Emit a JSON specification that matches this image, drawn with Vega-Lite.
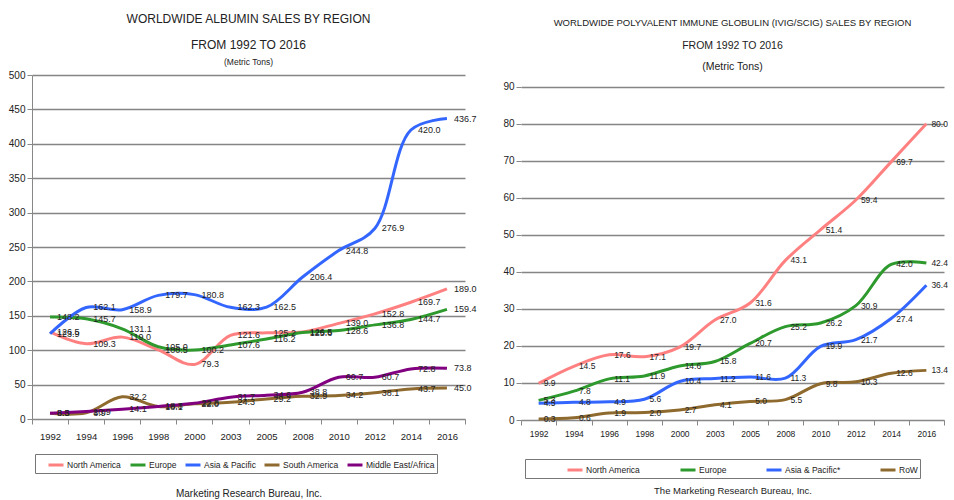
{
  "$schema": "https://vega.github.io/schema/vega-lite/v6.json",
  "background": "white",
  "padding": {"left": 8, "top": 12, "right": 0, "bottom": 0},
  "spacing": 25,
  "config": {
    "font": "Liberation Sans, Arial, sans-serif",
    "view": {"stroke": null},
    "axis": {
      "labelFont": "Liberation Sans, Arial, sans-serif",
      "titleFont": "Liberation Sans, Arial, sans-serif",
      "labelColor": "#222",
      "titleColor": "#222",
      "titleFontWeight": "normal",
      "domainColor": "#888",
      "tickColor": "#888",
      "gridColor": "#858585",
      "gridWidth": 1.3
    },
    "legend": {
      "labelFont": "Liberation Sans, Arial, sans-serif",
      "titleFont": "Liberation Sans, Arial, sans-serif",
      "labelColor": "#222"
    },
    "title": {
      "font": "Liberation Sans, Arial, sans-serif",
      "subtitleFont": "Liberation Sans, Arial, sans-serif",
      "color": "#222",
      "subtitleColor": "#222",
      "fontWeight": "normal",
      "anchor": "middle"
    }
  },
  "datasets": {
    "albumin": [
      {"region": "North America", "year": "1992", "value": 126.5},
      {"region": "North America", "year": "1994", "value": 109.3},
      {"region": "North America", "year": "1996", "value": 119.0},
      {"region": "North America", "year": "1998", "value": 100.5},
      {"region": "North America", "year": "2000", "value": 79.3},
      {"region": "North America", "year": "2003", "value": 121.6},
      {"region": "North America", "year": "2005", "value": 125.2},
      {"region": "North America", "year": "2008", "value": 126.5},
      {"region": "North America", "year": "2010", "value": 139.0},
      {"region": "North America", "year": "2012", "value": 152.8},
      {"region": "North America", "year": "2014", "value": 169.7},
      {"region": "North America", "year": "2016", "value": 189.0},
      {"region": "Europe", "year": "1992", "value": 148.2},
      {"region": "Europe", "year": "1994", "value": 145.7},
      {"region": "Europe", "year": "1996", "value": 131.1},
      {"region": "Europe", "year": "1998", "value": 105.0},
      {"region": "Europe", "year": "2000", "value": 100.2},
      {"region": "Europe", "year": "2003", "value": 107.6},
      {"region": "Europe", "year": "2005", "value": 116.2},
      {"region": "Europe", "year": "2008", "value": 125.6},
      {"region": "Europe", "year": "2010", "value": 128.6},
      {"region": "Europe", "year": "2012", "value": 136.8},
      {"region": "Europe", "year": "2014", "value": 144.7},
      {"region": "Europe", "year": "2016", "value": 159.4},
      {"region": "Asia & Pacific", "year": "1992", "value": 123.9},
      {"region": "Asia & Pacific", "year": "1994", "value": 162.1},
      {"region": "Asia & Pacific", "year": "1996", "value": 158.9},
      {"region": "Asia & Pacific", "year": "1998", "value": 179.7},
      {"region": "Asia & Pacific", "year": "2000", "value": 180.8},
      {"region": "Asia & Pacific", "year": "2003", "value": 162.3},
      {"region": "Asia & Pacific", "year": "2005", "value": 162.5},
      {"region": "Asia & Pacific", "year": "2008", "value": 206.4},
      {"region": "Asia & Pacific", "year": "2010", "value": 244.8},
      {"region": "Asia & Pacific", "year": "2012", "value": 276.9},
      {"region": "Asia & Pacific", "year": "2014", "value": 420.0},
      {"region": "Asia & Pacific", "year": "2016", "value": 436.7},
      {"region": "South America", "year": "1992", "value": 8.3},
      {"region": "South America", "year": "1994", "value": 8.9},
      {"region": "South America", "year": "1996", "value": 32.2},
      {"region": "South America", "year": "1998", "value": 18.1},
      {"region": "South America", "year": "2000", "value": 22.0},
      {"region": "South America", "year": "2003", "value": 24.3},
      {"region": "South America", "year": "2005", "value": 29.2},
      {"region": "South America", "year": "2008", "value": 32.9},
      {"region": "South America", "year": "2010", "value": 34.2},
      {"region": "South America", "year": "2012", "value": 38.1},
      {"region": "South America", "year": "2014", "value": 43.7},
      {"region": "South America", "year": "2016", "value": 45.0},
      {"region": "Middle East/Africa", "year": "1992", "value": 8.5},
      {"region": "Middle East/Africa", "year": "1994", "value": 10.9},
      {"region": "Middle East/Africa", "year": "1996", "value": 14.1},
      {"region": "Middle East/Africa", "year": "1998", "value": 18.3},
      {"region": "Middle East/Africa", "year": "2000", "value": 22.8},
      {"region": "Middle East/Africa", "year": "2003", "value": 31.7},
      {"region": "Middle East/Africa", "year": "2005", "value": 34.6},
      {"region": "Middle East/Africa", "year": "2008", "value": 38.8},
      {"region": "Middle East/Africa", "year": "2010", "value": 60.7},
      {"region": "Middle East/Africa", "year": "2012", "value": 60.7},
      {"region": "Middle East/Africa", "year": "2014", "value": 72.8},
      {"region": "Middle East/Africa", "year": "2016", "value": 73.8}
    ],
    "ivig": [
      {"region": "North America", "year": "1992", "value": 9.9},
      {"region": "North America", "year": "1994", "value": 14.5},
      {"region": "North America", "year": "1996", "value": 17.6},
      {"region": "North America", "year": "1998", "value": 17.1},
      {"region": "North America", "year": "2000", "value": 19.7},
      {"region": "North America", "year": "2003", "value": 27.0},
      {"region": "North America", "year": "2005", "value": 31.6},
      {"region": "North America", "year": "2008", "value": 43.1},
      {"region": "North America", "year": "2010", "value": 51.4},
      {"region": "North America", "year": "2012", "value": 59.4},
      {"region": "North America", "year": "2014", "value": 69.7},
      {"region": "North America", "year": "2016", "value": 80.0},
      {"region": "Europe", "year": "1992", "value": 5.3},
      {"region": "Europe", "year": "1994", "value": 7.8},
      {"region": "Europe", "year": "1996", "value": 11.1},
      {"region": "Europe", "year": "1998", "value": 11.9},
      {"region": "Europe", "year": "2000", "value": 14.6},
      {"region": "Europe", "year": "2003", "value": 15.8},
      {"region": "Europe", "year": "2005", "value": 20.7},
      {"region": "Europe", "year": "2008", "value": 25.2},
      {"region": "Europe", "year": "2010", "value": 26.2},
      {"region": "Europe", "year": "2012", "value": 30.9},
      {"region": "Europe", "year": "2014", "value": 42.0},
      {"region": "Europe", "year": "2016", "value": 42.4},
      {"region": "Asia & Pacific*", "year": "1992", "value": 4.5},
      {"region": "Asia & Pacific*", "year": "1994", "value": 4.8},
      {"region": "Asia & Pacific*", "year": "1996", "value": 4.9},
      {"region": "Asia & Pacific*", "year": "1998", "value": 5.6},
      {"region": "Asia & Pacific*", "year": "2000", "value": 10.4},
      {"region": "Asia & Pacific*", "year": "2003", "value": 11.2},
      {"region": "Asia & Pacific*", "year": "2005", "value": 11.6},
      {"region": "Asia & Pacific*", "year": "2008", "value": 11.3},
      {"region": "Asia & Pacific*", "year": "2010", "value": 19.9},
      {"region": "Asia & Pacific*", "year": "2012", "value": 21.7},
      {"region": "Asia & Pacific*", "year": "2014", "value": 27.4},
      {"region": "Asia & Pacific*", "year": "2016", "value": 36.4},
      {"region": "RoW", "year": "1992", "value": 0.3},
      {"region": "RoW", "year": "1994", "value": 0.6},
      {"region": "RoW", "year": "1996", "value": 1.9},
      {"region": "RoW", "year": "1998", "value": 2.0},
      {"region": "RoW", "year": "2000", "value": 2.7},
      {"region": "RoW", "year": "2003", "value": 4.1},
      {"region": "RoW", "year": "2005", "value": 5.0},
      {"region": "RoW", "year": "2008", "value": 5.5},
      {"region": "RoW", "year": "2010", "value": 9.8},
      {"region": "RoW", "year": "2012", "value": 10.3},
      {"region": "RoW", "year": "2014", "value": 12.6},
      {"region": "RoW", "year": "2016", "value": 13.4}
    ]
  },
  "resolve": {"scale": {"color": "independent"}, "legend": {"color": "independent"}},
  "hconcat": [
    {
      "width": 433,
      "height": 344,
      "title": {
        "text": ["WORLDWIDE ALBUMIN SALES BY REGION", "FROM 1992 TO 2016"],
        "subtitle": "(Metric Tons)",
        "fontSize": 12,
        "lineHeight": 26,
        "subtitleFontSize": 8.5,
        "subtitlePadding": 6,
        "offset": 3
      },
      "data": {"name": "albumin"},
      "encoding": {
        "x": {
          "field": "year",
          "type": "ordinal",
          "bandPosition": 0.5,
          "scale": {"type": "band", "paddingInner": 0, "paddingOuter": 0},
          "axis": {
            "title": "Marketing Research Bureau, Inc.",
            "titleFontSize": 10,
            "titlePadding": 48,
            "labelAngle": 0,
            "labelFontSize": 9.5,
            "labelPadding": 7,
            "tickSize": 5,
            "tickBand": "extent",
            "grid": false
          }
        },
        "y": {
          "field": "value",
          "type": "quantitative",
          "scale": {"domain": [0, 500], "nice": false},
          "axis": {
            "title": null,
            "values": [0, 50, 100, 150, 200, 250, 300, 350, 400, 450, 500],
            "labelFontSize": 10,
            "labelPadding": 2,
            "tickSize": 5,
            "grid": true
          }
        },
        "color": {
          "field": "region",
          "type": "nominal",
          "scale": {
            "domain": ["North America", "Europe", "Asia & Pacific", "South America", "Middle East/Africa"],
            "range": ["#ff8080", "#2e9a2e", "#3366ff", "#8f6a2e", "#800080"]
          },
          "legend": {
            "orient": "none",
            "legendX": 3,
            "legendY": 379,
            "direction": "horizontal",
            "title": " ",
            "titleOrient": "left",
            "titlePadding": 10,
            "titleFontSize": 1,
            "columnPadding": 2,
            "padding": 2,
            "strokeColor": "#777",
            "symbolType": "stroke",
            "symbolStrokeWidth": 3,
            "symbolSize": 225,
            "labelFontSize": 8.5,
            "labelOffset": 2
          }
        }
      },
      "layer": [
        {"mark": {"type": "line", "interpolate": "catmull-rom", "strokeWidth": 3}},
        {
          "mark": {"type": "text", "align": "left", "baseline": "middle", "dx": 7, "fontSize": 9},
          "encoding": {
            "text": {"field": "value", "type": "quantitative", "format": ".1f"},
            "color": {"value": "#222"}
          }
        }
      ]
    },
    {
      "width": 423,
      "height": 345,
      "title": {
        "text": "WORLDWIDE POLYVALENT IMMUNE GLOBULIN (IVIG/SCIG) SALES BY REGION",
        "subtitle": ["FROM 1992 TO 2016", "(Metric Tons)"],
        "fontSize": 9.5,
        "subtitleFontSize": 10.5,
        "subtitleLineHeight": 21,
        "subtitlePadding": 13,
        "offset": 3
      },
      "data": {"name": "ivig"},
      "encoding": {
        "x": {
          "field": "year",
          "type": "ordinal",
          "bandPosition": 0.5,
          "scale": {"type": "band", "paddingInner": 0, "paddingOuter": 0},
          "axis": {
            "title": "The Marketing Research Bureau, Inc.",
            "titleFontSize": 9.5,
            "titlePadding": 48,
            "labelAngle": 0,
            "labelFontSize": 8.5,
            "labelPadding": 4,
            "tickSize": 5,
            "tickBand": "extent",
            "grid": false
          }
        },
        "y": {
          "field": "value",
          "type": "quantitative",
          "scale": {"domain": [0, 93.16], "nice": false},
          "axis": {
            "title": null,
            "values": [0, 10, 20, 30, 40, 50, 60, 70, 80, 90],
            "labelFontSize": 10,
            "labelPadding": 2,
            "tickSize": 5,
            "grid": true,
            "domain": false
          }
        },
        "color": {
          "field": "region",
          "type": "nominal",
          "scale": {
            "domain": ["North America", "Europe", "Asia & Pacific*", "RoW"],
            "range": ["#ff8080", "#2e9a2e", "#3366ff", "#8f6a2e"]
          },
          "legend": {
            "orient": "none",
            "legendX": 4,
            "legendY": 384,
            "direction": "horizontal",
            "title": " ",
            "titleOrient": "left",
            "titlePadding": 39,
            "titleFontSize": 1,
            "columnPadding": 33,
            "padding": 2,
            "strokeColor": "#777",
            "symbolType": "stroke",
            "symbolStrokeWidth": 3,
            "symbolSize": 225,
            "labelFontSize": 8.5,
            "labelOffset": 2
          }
        }
      },
      "layer": [
        {
          "data": {"values": [{}]},
          "mark": {"type": "rule", "color": "#888"},
          "encoding": {
            "x": {"datum": "1992", "type": "ordinal", "bandPosition": 0},
            "y": {"datum": 0, "type": "quantitative"},
            "y2": {"datum": 90},
            "color": {"value": "#888"}
          }
        },
        {"mark": {"type": "line", "interpolate": "catmull-rom", "strokeWidth": 3}},
        {
          "mark": {"type": "text", "align": "left", "baseline": "middle", "dx": 5, "fontSize": 8.5},
          "encoding": {
            "text": {"field": "value", "type": "quantitative", "format": ".1f"},
            "color": {"value": "#222"}
          }
        }
      ]
    }
  ]
}
